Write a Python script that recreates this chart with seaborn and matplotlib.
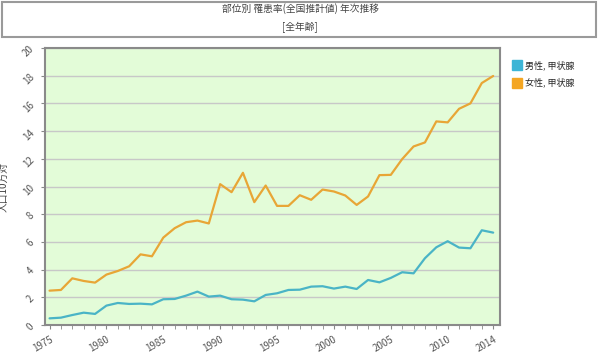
import numpy as np
import pandas as pd
import seaborn as sns
import matplotlib.pyplot as plt
from matplotlib.lines import Line2D
from matplotlib.patches import Rectangle

# Data
years = list(range(1975, 2015))
male = [0.48, 0.53, 0.72, 0.89, 0.80, 1.40, 1.59, 1.52, 1.54, 1.49,
        1.86, 1.88, 2.12, 2.41, 2.05, 2.12, 1.86, 1.83, 1.71, 2.17,
        2.29, 2.53, 2.55, 2.77, 2.80, 2.63, 2.77, 2.60, 3.25, 3.08,
        3.40, 3.81, 3.73, 4.82, 5.61, 6.05, 5.59, 5.54, 6.84, 6.67]
female = [2.48, 2.53, 3.37, 3.18, 3.06, 3.64, 3.90, 4.24, 5.10, 4.96,
          6.31, 6.99, 7.42, 7.54, 7.33, 10.17, 9.59, 10.99, 8.87, 10.07,
          8.60, 8.60, 9.37, 9.04, 9.78, 9.64, 9.35, 8.67, 9.28, 10.82,
          10.84, 11.98, 12.89, 13.18, 14.70, 14.63, 15.61, 16.00, 17.47, 17.98]
series_names = ["男性, 甲状腺", "女性, 甲状腺"]
xtick_years = [1975, 1980, 1985, 1990, 1995, 2000, 2005, 2010, 2014]
yticks = list(range(0, 21, 2))

line_colors = ["#4ab4c6", "#e8a636"]
legend_colors = ["#3db5d6", "#f4a623"]

df = pd.DataFrame({
    "year": years * 2,
    "value": male + female,
    "series": [series_names[0]] * len(years) + [series_names[1]] * len(years),
})

sns.set_style("white")
plt.rcParams["font.family"] = ["Noto Sans CJK JP", "DejaVu Sans"]

fig = plt.figure(figsize=(6, 3.53), dpi=100)
ax = fig.add_axes([45 / 600, 1 - 325 / 353, 455 / 600, 277 / 353])

sns.lineplot(data=df, x="year", y="value", hue="series",
             palette=line_colors, linewidth=1.6, ax=ax, legend=False)

ax.set_facecolor("#e3fcd8")
ax.set_xlim(1974.6, 2014.6)
ax.set_ylim(0, 20)
ax.set_yticks(yticks)
ax.set_yticklabels([str(v) for v in yticks], rotation=45, fontsize=7, color="#555555")
ax.set_xticks(xtick_years)
ax.set_xticklabels([str(v) for v in xtick_years], rotation=30, fontsize=7,
                   color="#555555", ha="right", rotation_mode="anchor")
ax.set_xticks(years, minor=True)
ax.tick_params(axis="both", which="both", direction="out", length=3,
               color="#888888", bottom=True, left=True)
ax.grid(axis="y", color="#c8c8c8", linewidth=1)
ax.set_axisbelow(True)
for s in ax.spines.values():
    s.set_color("#8a8a8a")
    s.set_linewidth(1.5)
ax.set_xlabel("")
ax.set_ylabel("人口10万対", fontsize=7, color="#444444")
ax.yaxis.set_label_coords(-0.08, 0.5)

# Legend on the right
handles = [Line2D([], [], marker="s", linestyle="", markersize=7,
                  markerfacecolor=c, markeredgecolor=c) for c in legend_colors]
fig.legend(handles, series_names, loc="upper left",
           bbox_to_anchor=(505 / 600, 1 - 52 / 353), frameon=False,
           fontsize=6.5, handletextpad=0.5, labelspacing=0.9, handlelength=0.8)

# Title box
fig.patches.append(Rectangle((0.003, 1 - 37 / 353), 0.99, 35 / 353,
                             transform=fig.transFigure, facecolor="white",
                             edgecolor="#9a9a9a", linewidth=1.5))
fig.text(0.5, 1 - 9 / 353, "部位別 罹患率(全国推計値) 年次推移", ha="center",
         va="center", fontsize=7, color="#444444")
fig.text(0.5, 1 - 27 / 353, "[全年齢]", ha="center", va="center",
         fontsize=7, color="#444444")

fig.savefig("out.png", dpi=100)
